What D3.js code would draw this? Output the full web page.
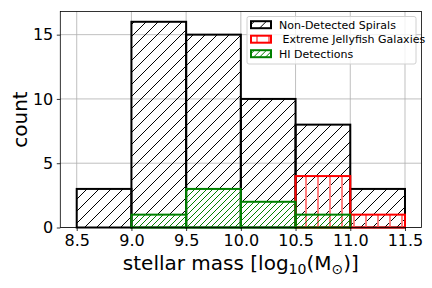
<!DOCTYPE html>
<html>
<head>
<meta charset="utf-8">
<script src="https://cdn.jsdelivr.net/npm/d3@7"></script>
<style>
  body { margin: 0; background: #fff; }
  svg text { font-family: "DejaVu Sans", sans-serif; }
</style>
</head>
<body>
<div id="chart"></div>
<script>
// bin edges (log10 stellar mass)
const binEdges = [8.5, 9.0, 9.5, 10.0, 10.5, 11.0, 11.5];
const nonDetected = [3, 16, 15, 10, 8, 3];
const jellyfish = [0, 0, 0, 0, 4, 1];
const hiDetections = [0, 1, 3, 2, 1, 0];
const xTicks = [8.5, 9.0, 9.5, 10.0, 10.5, 11.0, 11.5];
const yTicks = [0, 5, 10, 15];

const W = 432, H = 288;
const margin = { left: 60.3, right: 432 - 421.4, top: 11.5, bottom: 288 - 227.5 };

const svg = d3.select("#chart").append("svg")
    .attr("width", W)
    .attr("height", H);

// hatch patterns, like matplotlib's '/', '|' and '//'
const defs = svg.append("defs");
function diagPattern(id, size, color) {
    const p = defs.append("pattern")
        .attr("id", id)
        .attr("patternUnits", "userSpaceOnUse")
        .attr("width", size)
        .attr("height", size);
    p.append("path")
        .attr("d", `M0,${size} L${size},0 M${-size / 4},${size / 4} L${size / 4},${-size / 4} M${size * 0.75},${size * 1.25} L${size * 1.25},${size * 0.75}`)
        .attr("stroke", color)
        .attr("stroke-width", 1);
}
diagPattern("hatch-black", 12, "#000");
diagPattern("hatch-green", 6, "green");
const vp = defs.append("pattern")
    .attr("id", "hatch-red")
    .attr("patternUnits", "userSpaceOnUse")
    .attr("width", 12)
    .attr("height", 12);
vp.append("line")
    .attr("x1", 6).attr("x2", 6).attr("y1", 0).attr("y2", 12)
    .attr("stroke", "#ff8080")
    .attr("stroke-width", 2);

const x = d3.scaleLinear()
    .domain([8.35, 11.65])
    .range([margin.left, W - margin.right]);
const y = d3.scaleLinear()
    .domain([0, 16.8])
    .range([H - margin.bottom, margin.top]);

// grid
const g = svg.append("g");
g.selectAll(".gx").data(xTicks).enter().append("line")
    .attr("x1", d => x(d)).attr("x2", d => x(d))
    .attr("y1", y(0)).attr("y2", margin.top)
    .attr("stroke", "#b0b0b0").attr("stroke-width", 0.8);
g.selectAll(".gy").data(yTicks).enter().append("line")
    .attr("x1", margin.left).attr("x2", W - margin.right)
    .attr("y1", d => y(d)).attr("y2", d => y(d))
    .attr("stroke", "#b0b0b0").attr("stroke-width", 0.8);

function drawHist(counts, edge, hatch) {
    const bins = counts.map((c, i) => ({ x0: binEdges[i], x1: binEdges[i + 1], c }))
        .filter(b => b.c > 0);
    svg.append("g").selectAll("rect").data(bins).enter().append("rect")
        .attr("x", d => x(d.x0))
        .attr("width", d => x(d.x1) - x(d.x0))
        .attr("y", d => y(d.c))
        .attr("height", d => y(0) - y(d.c))
        .attr("fill", `url(#${hatch})`)
        .attr("stroke", edge)
        .attr("stroke-width", 2);
}
drawHist(nonDetected, "#000", "hatch-black");
drawHist(jellyfish, "red", "hatch-red");
drawHist(hiDetections, "green", "hatch-green");

// axes
const xAxis = svg.append("g")
    .attr("transform", `translate(0,${y(0)})`)
    .call(d3.axisBottom(x).tickValues(xTicks).tickFormat(d3.format(".1f")).tickSize(3.5).tickPadding(3.5));
const yAxis = svg.append("g")
    .attr("transform", `translate(${margin.left},0)`)
    .call(d3.axisLeft(y).tickValues(yTicks).tickFormat(d3.format("d")).tickSize(3.5).tickPadding(3.5));
[xAxis, yAxis].forEach(a => {
    a.select(".domain").remove();
    a.selectAll(".tick line").attr("stroke", "#000").attr("stroke-width", 0.8);
    a.selectAll(".tick text").attr("font-size", 16).attr("fill", "#000")
        .style("font-family", "DejaVu Sans");
});

// spines
svg.append("rect")
    .attr("x", margin.left).attr("y", margin.top)
    .attr("width", W - margin.right - margin.left)
    .attr("height", y(0) - margin.top)
    .attr("fill", "none").attr("stroke", "#000").attr("stroke-width", 0.8);

// labels
const xl = svg.append("text")
    .attr("x", (margin.left + W - margin.right) / 2)
    .attr("y", 270)
    .attr("text-anchor", "middle")
    .attr("font-size", 20);
xl.append("tspan").text("stellar mass [log");
xl.append("tspan").attr("font-size", 14).attr("dy", 4).text("10");
xl.append("tspan").attr("dy", -4).text("(M");
xl.append("tspan").attr("font-size", 14).attr("dy", 4).text("\u2299");
xl.append("tspan").attr("dy", -4).text(")]");

svg.append("text")
    .attr("transform", `translate(27,${(margin.top + y(0)) / 2}) rotate(-90)`)
    .attr("text-anchor", "middle")
    .attr("font-size", 20)
    .text("count");

// legend
const legendItems = [
    { label: "Non-Detected Spirals", edge: "#000", hatch: "hatch-black" },
    { label: "\u00a0Extreme Jellyfish Galaxies", edge: "red", hatch: "hatch-red" },
    { label: "HI Detections", edge: "green", hatch: "hatch-green" }
];
const lg = svg.append("g");
lg.append("rect")
    .attr("x", 247).attr("y", 16.5)
    .attr("width", 169).attr("height", 47.5)
    .attr("rx", 2)
    .attr("fill", "rgba(255,255,255,0.8)")
    .attr("stroke", "#d0d0d0").attr("stroke-width", 1);
const rows = lg.selectAll(".row").data(legendItems).enter().append("g")
    .attr("transform", (d, i) => `translate(251,${24.7 + i * 14.5})`);
rows.append("rect")
    .attr("x", 0).attr("y", -3.5)
    .attr("width", 20).attr("height", 7)
    .attr("fill", d => `url(#${d.hatch})`)
    .attr("stroke", d => d.edge).attr("stroke-width", 2);
rows.append("text")
    .attr("x", 28).attr("dy", "0.35em")
    .attr("font-size", 11)
    .attr("fill", "#000")
    .text(d => d.label);
</script>
</body>
</html>
